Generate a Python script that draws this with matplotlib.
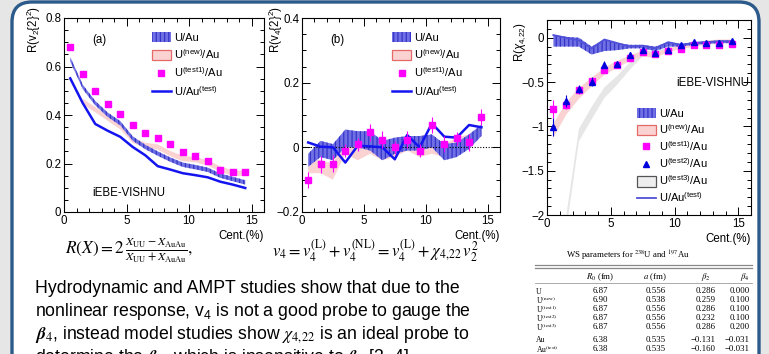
import numpy as np
import matplotlib.pyplot as plt
from matplotlib.patches import FancyBboxPatch, Patch
from matplotlib.lines import Line2D
from matplotlib.ticker import MultipleLocator

plt.rcParams['font.family'] = ['Liberation Sans', 'DejaVu Sans']
plt.rcParams['mathtext.fontset'] = 'custom'
plt.rcParams['mathtext.rm'] = 'Liberation Sans'
plt.rcParams['mathtext.it'] = 'Liberation Sans:italic'
plt.rcParams['mathtext.bf'] = 'Liberation Sans:bold'
plt.rcParams['hatch.linewidth'] = 0.9

cent = np.arange(0.5, 15, 1.0)

# panel (a): R(v2{2}^2)
a_test1 = [0.679, 0.570, 0.498, 0.444, 0.405, 0.359, 0.327, 0.307, 0.280, 0.246, 0.230, 0.210, 0.174, 0.163, 0.163]
a_test = [0.551, 0.449, 0.363, 0.335, 0.310, 0.268, 0.234, 0.189, 0.175, 0.160, 0.152, 0.143, 0.125, 0.113, 0.099]
a_uau = [0.630, 0.516, 0.449, 0.401, 0.366, 0.303, 0.268, 0.241, 0.216, 0.195, 0.185, 0.174, 0.150, 0.136, 0.122]
a_uau_err = [0.009] * 15
a_new = [0.456, 0.422, 0.387, 0.352, 0.296, 0.275, 0.268, 0.241, 0.220, 0.216, 0.202, 0.178, 0.160, 0.160]
a_new_err = [0.011] * 14

# panel (b): R(v4{2}^2)
b_test1 = [-0.101, -0.053, -0.050, -0.010, 0.010, 0.046, 0.024, 0.000, 0.024, -0.011, 0.069, 0.010, 0.028, 0.015, 0.094]
b_test1_err = [0.025, 0.025, 0.025, 0.02, 0.02, 0.025, 0.025, 0.02, 0.025, 0.02, 0.025, 0.025, 0.02, 0.025, 0.025]
b_test = [0.015, 0.002, 0.000, -0.047, 0.005, 0.003, 0.000, -0.037, 0.038, 0.000, 0.074, 0.033, 0.030, 0.069, 0.062]
b_uau_lo = [-0.06, -0.03, -0.04, 0.00, 0.00, -0.01, -0.04, -0.02, -0.01, -0.01, 0.00, -0.04, -0.03, -0.005, 0.035]
b_uau_hi = [-0.02, 0.02, 0.01, 0.055, 0.05, 0.05, 0.02, 0.03, 0.035, 0.035, 0.04, 0.01, 0.015, 0.04, 0.07]
b_new_lo = [-0.08, -0.08, -0.10, -0.02, -0.04, -0.02, -0.04, -0.03, -0.01, -0.03, -0.02, -0.03, -0.01, 0.00, 0.035]
b_new_hi = [-0.03, -0.04, -0.05, 0.03, 0.01, 0.02, 0.00, 0.01, 0.03, 0.00, 0.03, 0.01, 0.03, 0.04, 0.06]

# panel (c): R(chi_4,22)
c_test1 = [-0.80, -0.754, -0.59, -0.49, -0.36, -0.31, -0.224, -0.157, -0.187, -0.149, -0.131, -0.082, -0.082, -0.082, -0.075]
c_test1_err = [0.10, 0.05, 0.04, 0.03, 0.03, 0.03, 0.02, 0.02, 0.02, 0.02, 0.02, 0.02, 0.02, 0.02, 0.02]
c_test2 = [-1.01, -0.716, -0.578, -0.496, -0.306, -0.300, -0.194, -0.138, -0.175, -0.138, -0.086, -0.052, -0.060, -0.060, -0.037]
c_test2_err = [0.10, 0.07, 0.05, 0.05, 0.04, 0.03, 0.03, 0.02, 0.02, 0.02, 0.02, 0.02, 0.02, 0.02, 0.02]
c_new = [-1.05, -0.80, -0.63, -0.50, -0.38, -0.30, -0.23, -0.18, -0.20, -0.14, -0.11, -0.08, -0.05, -0.04, -0.04]
c_new_err = [0.08, 0.07, 0.06, 0.05, 0.04, 0.04, 0.03, 0.03, 0.03, 0.02, 0.02, 0.02, 0.02, 0.02, 0.02]
c_t3 = [-2.6, -2.1, -1.1, -0.85, -0.62, -0.48, -0.32, -0.18, -0.17, -0.13, -0.10, -0.08, -0.06, -0.05, -0.05]
c_t3_err = [0.08, 0.08, 0.07, 0.07, 0.06, 0.05, 0.04, 0.03, 0.03, 0.02, 0.02, 0.02, 0.02, 0.02, 0.02]
c_uau_lo = [-0.10, -0.10, -0.10, -0.19, -0.15, -0.14, -0.12, -0.12, -0.15, -0.10, -0.10, -0.08, -0.07, -0.06, -0.06]
c_uau_hi = [0.03, 0.01, 0.00, -0.10, -0.02, -0.06, -0.08, -0.08, -0.10, -0.05, -0.07, -0.05, -0.04, -0.03, -0.03]
c_test = [0.03, 0.00, -0.03, -0.12, -0.02, -0.06, -0.10, -0.09, -0.12, -0.05, -0.08, -0.06, -0.05, -0.04, -0.04]

# table
tab_rows = ['U', r'U$^{\rm (new)}$', r'U$^{\rm (test1)}$', r'U$^{\rm (test2)}$', r'U$^{\rm (test3)}$', 'Au', r'Au$^{\rm (test)}$']
tab_r0 = ['6.87', '6.90', '6.87', '6.87', '6.87', '6.38', '6.38']
tab_a = ['0.556', '0.538', '0.556', '0.556', '0.556', '0.535', '0.535']
tab_b2 = ['0.286', '0.259', '0.286', '0.232', '0.286', '\u22120.131', '\u22120.160']
tab_b4 = ['0.000', '0.100', '0.100', '0.100', '0.200', '\u22120.031', '\u22120.031']

BLUE_F = '#7070e4'
BLUE_H = '#3434c8'
PINK_F = '#fbd2d2'
PINK_E = '#e46a6a'
MAG = '#ff00ff'
LINE = '#1414f0'

fig = plt.figure(figsize=(7.69, 3.54), dpi=100)
fig.patch.set_facecolor('#e6e6e6')

bg = fig.add_axes([0, 0, 1, 1], zorder=-1)
bg.set_xlim(0, 769)
bg.set_ylim(354, 0)
bg.axis('off')
bg.add_patch(FancyBboxPatch((12, 2), 747, 420, boxstyle='round,pad=0,rounding_size=20',
                            fc='white', ec='#2c5a8a', lw=2.4))


def style(ax, ylim, ymin, yticks, ylabels):
    ax.set_facecolor('none')
    ax.set_xlim(0, 16)
    ax.set_ylim(*ylim)
    ax.set_xticks([0, 5, 10, 15])
    ax.set_xticklabels(['0', '5', '10', '15'])
    ax.xaxis.set_minor_locator(MultipleLocator(1))
    ax.set_yticks(yticks)
    ax.set_yticklabels(ylabels)
    ax.yaxis.set_minor_locator(MultipleLocator(ymin))
    ax.tick_params(which='both', direction='in', top=True, right=True, labelsize=8.3, width=0.7, pad=2)
    ax.tick_params(which='major', length=6)
    ax.tick_params(which='minor', length=3)
    for s in ax.spines.values():
        s.set_linewidth(0.8)
    ax.set_xlabel('Cent.(%)', loc='right', fontsize=8.3, labelpad=2)


def band(ax, x, lo, hi, kind):
    if kind == 'blue':
        ax.fill_between(x, lo, hi, facecolor=BLUE_F, edgecolor=BLUE_H, hatch='||||', lw=0, zorder=2)
    elif kind == 'pink':
        ax.fill_between(x, lo, hi, facecolor=PINK_F, edgecolor='none', lw=0, zorder=1.5)
    else:
        ax.fill_between(x, lo, hi, facecolor='#e6e6e6', edgecolor='none', lw=0, zorder=1.2)


blue_h = Patch(facecolor=BLUE_F, edgecolor=BLUE_H, hatch='||||', lw=0)
pink_h = Patch(facecolor=PINK_F, edgecolor=PINK_E, lw=0.9)
gray_h = Patch(facecolor='#eeeeee', edgecolor='#555555', lw=0.9)
mag_h = Line2D([], [], ls='none', marker='s', color=MAG, ms=4)
tri_h = Line2D([], [], ls='none', marker='^', color='#0000dd', ms=4)
line_h = Line2D([], [], color=LINE, lw=1.8)
line_c = Line2D([], [], color='#5050d8', lw=1.3)


def legend(ax, handles, labels, x, y, sp):
    ax.legend(handles, labels, loc='upper left', bbox_to_anchor=(x, y), frameon=False,
              fontsize=8, borderpad=0, borderaxespad=0, handlelength=1.7, handleheight=1.05,
              handletextpad=0.3, labelspacing=sp)


# (a)
ax = fig.add_axes([64 / 769, 142 / 354, 200 / 769, 194 / 354])
style(ax, (0, 0.8), 0.05, [0, 0.2, 0.4, 0.6, 0.8], ['0', '0.2', '0.4', '0.6', '0.8'])
band(ax, cent[1:], np.array(a_new) - a_new_err, np.array(a_new) + a_new_err, 'pink')
band(ax, cent, np.array(a_uau) - a_uau_err, np.array(a_uau) + a_uau_err, 'blue')
ax.plot(cent, a_test, color=LINE, lw=1.8, zorder=3)
ax.plot(cent, a_test1, ls='none', marker='s', color=MAG, ms=4.5, zorder=4)
ax.text(-0.15, 1.06, r'R(v$_2${2}$^2$)', transform=ax.transAxes, rotation=90, ha='center', va='top', fontsize=8.3)
ax.text(0.175, 0.885, '(a)', transform=ax.transAxes, ha='center', va='center', fontsize=8.3)
ax.text(0.14, 0.10, 'iEBE-VISHNU', transform=ax.transAxes, ha='left', va='center', fontsize=8.3)
legend(ax, [blue_h, pink_h, mag_h, line_h],
       ['U/Au', r'U$^{\rm (new)}$/Au', r'U$^{\rm (test1)}$/Au', r'U/Au$^{\rm (test)}$'], 0.44, 0.93, 0.42)

# (b)
ax = fig.add_axes([302 / 769, 142 / 354, 198 / 769, 194 / 354])
style(ax, (-0.2, 0.4), 0.05, [-0.2, 0, 0.2, 0.4], ['\u22120.2', '0', '0.2', '0.4'])
band(ax, cent, b_new_lo, b_new_hi, 'pink')
band(ax, cent, b_uau_lo, b_uau_hi, 'blue')
ax.axhline(0, color='black', lw=0.8, ls=(0, (1, 1.5)), zorder=2.5)
ax.plot(cent, b_test, color=LINE, lw=1.8, zorder=3)
ax.errorbar(cent, b_test1, yerr=b_test1_err, ls='none', marker='s', color=MAG, ms=4.5, elinewidth=0.8, capsize=0, zorder=4)
ax.text(-0.13, 1.06, r'R(v$_4${2}$^2$)', transform=ax.transAxes, rotation=90, ha='center', va='top', fontsize=8.3)
ax.text(0.177, 0.885, '(b)', transform=ax.transAxes, ha='center', va='center', fontsize=8.3)
legend(ax, [blue_h, pink_h, mag_h, line_h],
       ['U/Au', r'U$^{\rm (new)}$/Au', r'U$^{\rm (test1)}$/Au', r'U/Au$^{\rm (test)}$'], 0.455, 0.93, 0.42)

# (c)
ax = fig.add_axes([547 / 769, 139 / 354, 204 / 769, 195 / 354])
style(ax, (-2, 0.2), 0.1, [-2, -1.5, -1, -0.5, 0], ['\u22122', '\u22121.5', '\u22121', '\u22120.5', '0'])
band(ax, cent, np.array(c_t3) - c_t3_err, np.array(c_t3) + c_t3_err, 'gray')
band(ax, cent, np.array(c_new) - c_new_err, np.array(c_new) + c_new_err, 'pink')
band(ax, cent, c_uau_lo, c_uau_hi, 'blue')
ax.plot(cent, c_test, color='#5050d8', lw=1.3, zorder=3)
ax.errorbar(cent, c_test1, yerr=c_test1_err, ls='none', marker='s', color=MAG, ms=4.5, elinewidth=0.8, capsize=0, zorder=4)
ax.errorbar(cent, c_test2, yerr=c_test2_err, ls='none', marker='^', color='#0000dd', ms=4.5, elinewidth=0.8, capsize=0, zorder=5)
ax.text(-0.13, 0.99, r'R($\chi_{4,\!22}$)', transform=ax.transAxes, rotation=90, ha='center', va='top', fontsize=8.3)
ax.text(0.99, 0.675, 'iEBE-VISHNU', transform=ax.transAxes, ha='right', va='center', fontsize=8.3)
legend(ax, [blue_h, pink_h, mag_h, tri_h, gray_h, line_c],
       ['U/Au', r'U$^{\rm (new)}$/Au', r'U$^{\rm (test1)}$/Au', r'U$^{\rm (test2)}$/Au', r'U$^{\rm (test3)}$/Au', r'U/Au$^{\rm (test)}$'],
       0.44, 0.55, 0.3)

# formulas
bg.text(65, 250, r'$R(X) = 2\,\frac{X_{\rm UU} - X_{\rm AuAu}}{X_{\rm UU} + X_{\rm AuAu}},$',
        math_fontfamily='stix', fontsize=12.4, ha='left', va='center')
bg.text(272, 251, r'$v_4 = v_4^{\rm (L)} + v_4^{\rm (NL)} = v_4^{\rm (L)} + \chi_{4,\!22}\,v_2^2$',
        math_fontfamily='stix', fontsize=12, ha='left', va='center')

# paragraph
lines = ['Hydrodynamic and AMPT studies show that due to the',
         r'nonlinear response, v$_4$ is not a good probe to gauge the',
         r'$\mathbfit{\beta}_4$, instead model studies show $\chi_{4,\!22}$ is an ideal probe to',
         r'determine the $\mathbfit{\beta}_2$, which is insensitive to $\mathbfit{\beta}_4$ [3, 4]']
for i, s in enumerate(lines):
    mf = 'stix' if i >= 2 else 'custom'
    bg.text(35, 293 + 23 * i, s, fontsize=12.7, ha='left', va='baseline', math_fontfamily=mf)

# table
tf = dict(fontsize=6.3, family='Liberation Serif', math_fontfamily='stix', va='center')
bg.text(628, 256, r'WS parameters for $^{238}$U and $^{197}$Au', ha='center', **tf)
bg.plot([535, 752], [265, 265], color='#888888', lw=0.9)
bg.plot([535, 752], [267.5, 267.5], color='#888888', lw=0.9)
bg.text(600, 277, r'$R_0$ (fm)', ha='center', **tf)
bg.text(655, 277, r'$a$ (fm)', ha='center', **tf)
bg.text(706, 277, r'$\beta_2$', ha='center', **tf)
bg.text(745, 277, r'$\beta_4$', ha='center', **tf)
bg.plot([535, 752], [283, 283], color='#888888', lw=0.5)
row_y = [291, 300, 309, 318, 327, 340, 349]
for i in range(len(tab_rows)):
    y = row_y[i]
    bg.text(536, y + 0.5, tab_rows[i], ha='left', fontsize=5.6, family='Liberation Serif',
            math_fontfamily='stix', va='center')
    bg.text(600, y, tab_r0[i], ha='center', **tf)
    bg.text(656, y, tab_a[i], ha='center', **tf)
    bg.text(716, y, tab_b2[i], ha='right', **tf)
    bg.text(750, y, tab_b4[i], ha='right', **tf)

fig.savefig('out.png', dpi=100, facecolor=fig.get_facecolor())
